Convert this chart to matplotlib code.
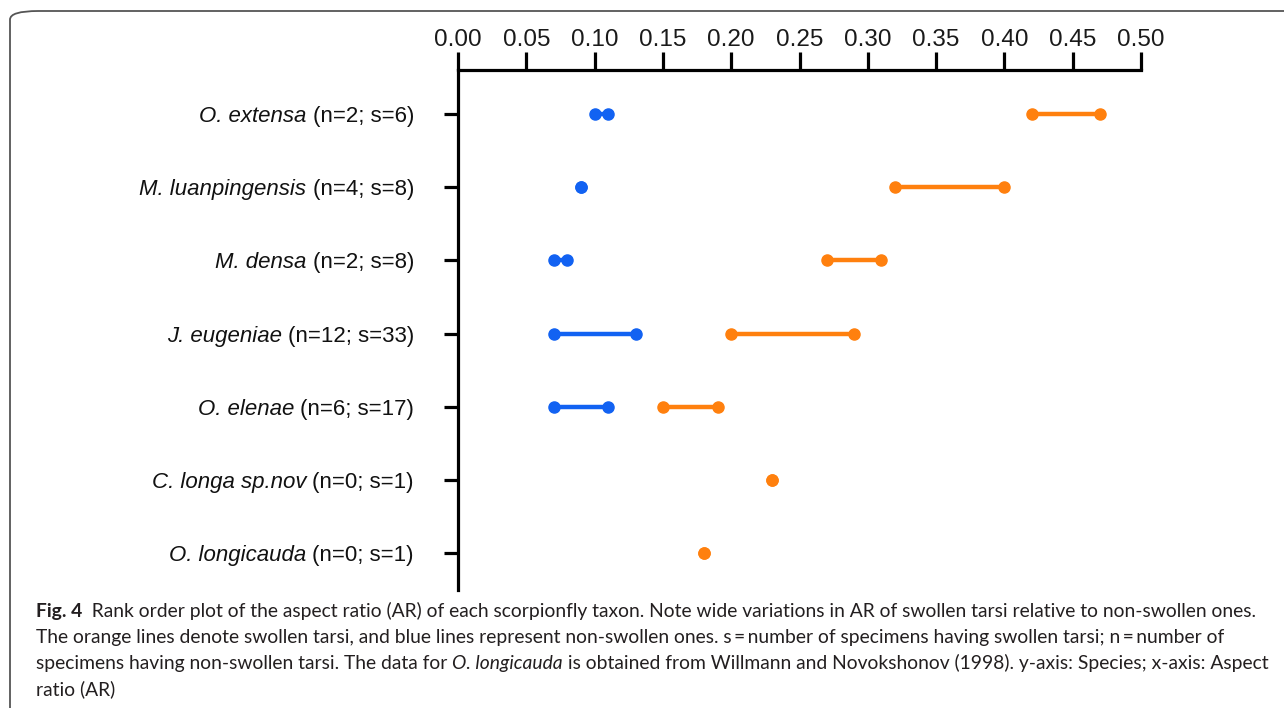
import matplotlib
matplotlib.use("Agg")
import matplotlib.pyplot as plt
from matplotlib.patches import FancyBboxPatch

# ---- data ----
species_italic = ["O. extensa", "M. luanpingensis", "M. densa", "J. eugeniae",
                  "O. elenae", "C. longa sp.nov", "O. longicauda"]
species_counts = ["(n=2; s=6)", "(n=4; s=8)", "(n=2; s=8)", "(n=12; s=33)",
                  "(n=6; s=17)", "(n=0; s=1)", "(n=0; s=1)"]
nonswollen_min = [0.10, 0.09, 0.07, 0.07, 0.07, None, None]
nonswollen_max = [0.11, 0.09, 0.08, 0.13, 0.11, None, None]
swollen_min = [0.42, 0.32, 0.27, 0.20, 0.15, 0.23, 0.18]
swollen_max = [0.47, 0.40, 0.31, 0.29, 0.19, 0.23, 0.18]
xticks = [0.00, 0.05, 0.10, 0.15, 0.20, 0.25, 0.30, 0.35, 0.40, 0.45, 0.50]

BLUE = "#1262f2"
ORANGE = "#ff800e"

plt.rcParams['font.family'] = 'Liberation Sans'

W, H = 1284, 708
fig = plt.figure(figsize=(W / 100, H / 100), dpi=100)
renderer = fig.canvas.get_renderer()

# rounded frame
frame = FancyBboxPatch((10 / W, -0.2), 1.2, 1 - 11 / H + 0.2,
                       boxstyle="round,pad=0,rounding_size=0.022",
                       transform=fig.transFigure, fill=False,
                       edgecolor="#555555", linewidth=1.3, mutation_aspect=H / W)
fig.patches.append(frame)

ax = fig.add_axes([458 / W, 1 - 590 / H, (1141 - 458) / W, (590 - 70) / H])
ys = list(range(len(species_italic)))
for i in ys:
    if nonswollen_min[i] is not None:
        ax.plot([nonswollen_min[i], nonswollen_max[i]], [i, i], color=BLUE,
                lw=3.2, marker='o', ms=8, solid_capstyle='butt', zorder=3)
    ax.plot([swollen_min[i], swollen_max[i]], [i, i], color=ORANGE,
            lw=3.2, marker='o', ms=8, solid_capstyle='butt', zorder=3)

ax.set_xlim(0, 0.5)
ax.set_ylim(6.5, -0.6)
ax.set_xticks(xticks)
ax.set_xticklabels([f"{t:.2f}" for t in xticks])
ax.set_yticks(ys)
ax.set_yticklabels([""] * len(ys))
ax.xaxis.tick_top()
for s in ['bottom', 'right']:
    ax.spines[s].set_visible(False)
for s in ['top', 'left']:
    ax.spines[s].set_linewidth(2.3)
ax.tick_params(axis='x', length=13, width=2.3, pad=1, labelsize=17.5, top=True, bottom=False,
               labelcolor='#1a1a1a')
ax.tick_params(axis='y', length=10, width=2.3, pad=22)
ax.patch.set_visible(False)

# y labels: italic species name + regular counts, right-aligned at x=414 px
LFS = 16
right_px = 414
space_px = 0.278 * LFS * 100 / 72
for i in ys:
    ydisp = ax.transData.transform((0, i))[1]
    yf = ydisp / H
    t2 = fig.text(right_px / W, yf, species_counts[i], ha='right', va='center_baseline',
                  fontsize=LFS, color='#111111')
    w2 = t2.get_window_extent(renderer=renderer).width
    fig.text((right_px - w2 - space_px) / W, yf, species_italic[i], ha='right',
             va='center_baseline', fontsize=LFS, style='italic', color='#111111')

# caption with mixed styles
FS = 13.9
CAP = dict(family='Lato', fontsize=FS, color='#231f20', va='center')
lines = [
    [("Fig. 4", dict(weight='bold')),
     ("  Rank order plot of the aspect ratio (AR) of each scorpionfly taxon. Note wide variations in AR of swollen tarsi relative to non-swollen ones.", {})],
    [("The orange lines denote swollen tarsi, and blue lines represent non-swollen ones. s\u2009=\u2009number of specimens having swollen tarsi; n\u2009=\u2009number of", {})],
    [("specimens having non-swollen tarsi. The data for ", {}), ("O. longicauda", dict(style='italic')),
     (" is obtained from Willmann and Novokshonov (1998). y-axis: Species; x-axis: Aspect", {})],
    [("ratio (AR)", {})],
]
y0 = 611
for li, runs in enumerate(lines):
    x = 36
    y = y0 + li * 26
    for txt, st in runs:
        kw = dict(CAP)
        kw.update(st)
        t = fig.text(x / W, 1 - y / H, txt, **kw)
        bb = t.get_window_extent(renderer=renderer)
        x += bb.width

fig.savefig("out.png", dpi=100)
